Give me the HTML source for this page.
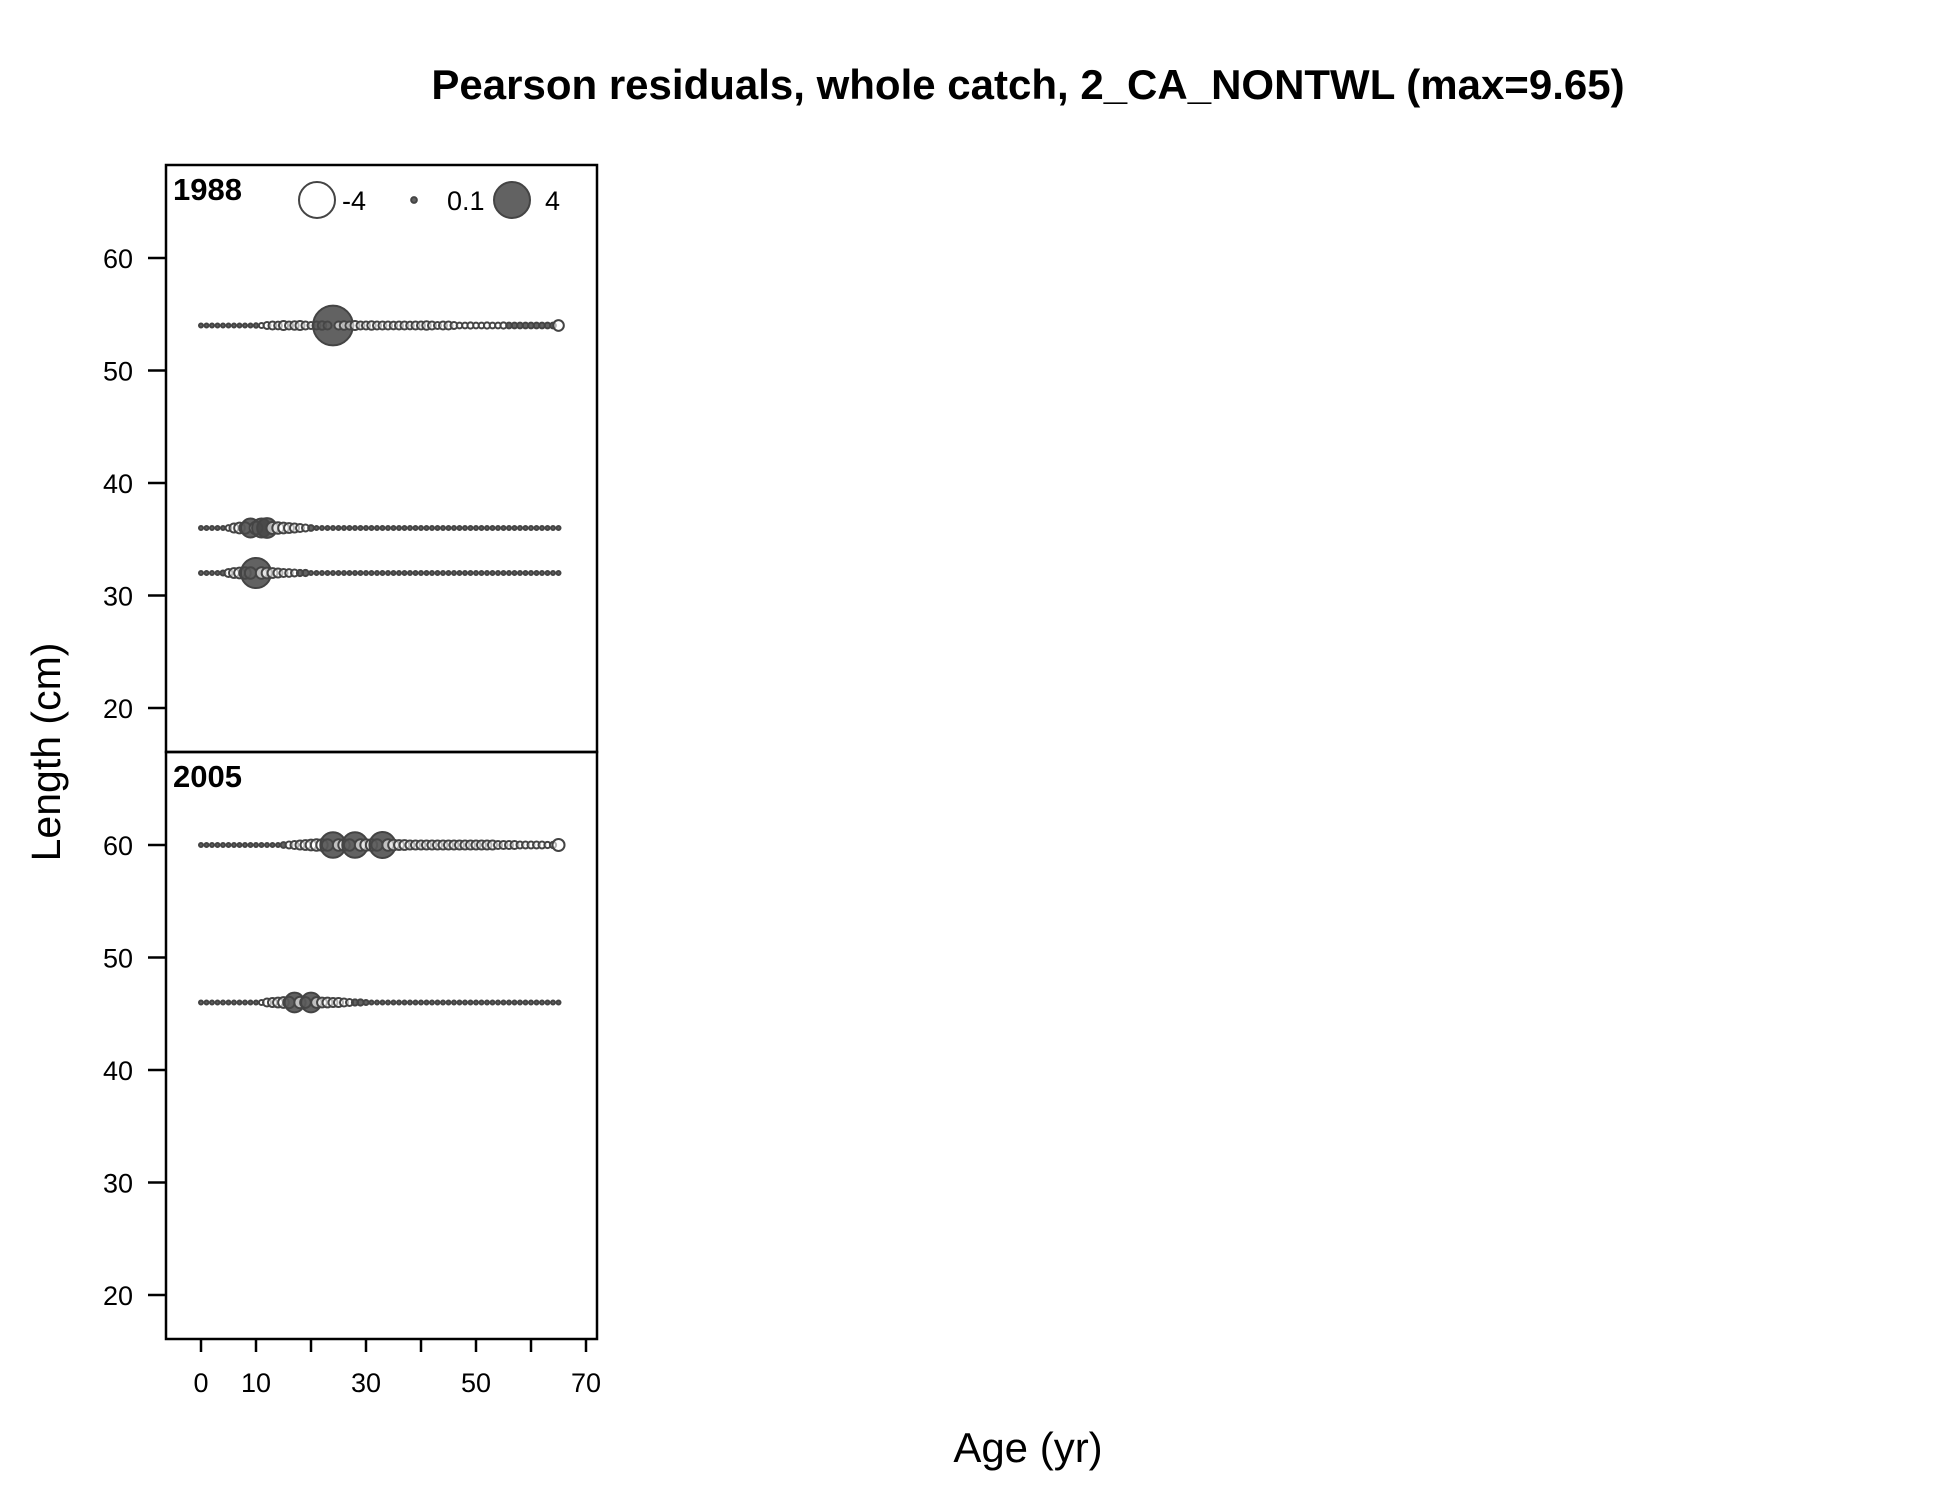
<!DOCTYPE html>
<html><head><meta charset="utf-8">
<style>
html,body{margin:0;padding:0;background:#fff;}
svg{display:block;font-family:"Liberation Sans",Arial,sans-serif;}
</style></head>
<body>
<svg id="chart" width="1950" height="1500" viewBox="0 0 1950 1500">
<text x="1028" y="99" text-anchor="middle" font-size="42" font-weight="bold">Pearson residuals, whole catch, 2_CA_NONTWL (max=9.65)</text>
<text x="1028" y="1462" text-anchor="middle" font-size="42">Age (yr)</text>
<text transform="translate(60,752) rotate(-90)" text-anchor="middle" font-size="41">Length (cm)</text>
<g id="axes"></g>
<g id="marks"></g>
<g id="legend"></g>
</svg>
<script>
const ages = Array.from({length:66},(_,i)=>i);
const years = ["1988","2005"];
const xTicks = [0,10,20,30,40,50,60,70];
const xTickLabels = ["0","10","","30","","50","","70"];
const yTicks = [20,30,40,50,60];
const legendValues = [-4,0.1,4];
const legendLabels = ["-4","0.1","4"];
const rowLengths1988 = [54,36,32];
const rowLengths2005 = [60,46];
const res1988_L54 = [0.05,0.05,0.05,0.05,0.05,0.05,0.05,0.05,0.05,0.05,
 0.06,-0.08,-0.15,-0.2,-0.18,-0.25,-0.2,-0.22,-0.25,-0.2,
 -0.15,-0.2,-0.22,-0.2,4.9,-0.2,-0.22,-0.2,-0.25,-0.2,
 -0.2,-0.22,-0.2,-0.2,-0.2,-0.18,-0.2,-0.2,-0.18,-0.2,
 -0.2,-0.22,-0.2,-0.15,-0.2,-0.2,-0.15,-0.1,-0.1,-0.12,
 -0.1,-0.1,-0.12,-0.1,-0.1,-0.12,0.1,0.1,0.1,0.1,
 0.1,0.1,0.1,0.1,0.1,-0.35];
const res1988_L36 = [0.05,0.05,0.05,0.05,0.05,-0.1,-0.25,-0.35,-0.4,1.1,
 -0.5,1.1,1.2,-0.45,-0.4,-0.35,-0.3,-0.25,-0.2,-0.15,
 0.1,0.05,0.05,0.05,0.05,0.05,0.05,0.05,0.05,0.05,
 0.05,0.05,0.05,0.05,0.05,0.05,0.05,0.05,0.05,0.05,
 0.05,0.05,0.05,0.05,0.05,0.05,0.05,0.05,0.05,0.05,
 0.05,0.05,0.05,0.05,0.05,0.05,0.05,0.05,0.05,0.05,
 0.05,0.05,0.05,0.05,0.05,0.05];
const res1988_L32 = [0.05,0.05,0.05,0.05,0.08,-0.2,-0.3,-0.35,-0.4,-0.4,
 2.8,-0.4,-0.35,-0.3,-0.25,-0.2,-0.18,-0.15,0.12,0.12,
 0.05,0.05,0.05,0.05,0.05,0.05,0.05,0.05,0.05,0.05,
 0.05,0.05,0.05,0.05,0.05,0.05,0.05,0.05,0.05,0.05,
 0.05,0.05,0.05,0.05,0.05,0.05,0.05,0.05,0.05,0.05,
 0.05,0.05,0.05,0.05,0.05,0.05,0.05,0.05,0.05,0.05,
 0.05,0.05,0.05,0.05,0.05,0.05];
const res2005_L60 = [0.05,0.05,0.05,0.05,0.05,0.05,0.05,0.05,0.05,0.05,
 0.05,0.05,0.05,0.05,0.05,0.1,-0.15,-0.2,-0.25,-0.3,
 -0.35,-0.4,-0.4,-0.4,2.0,-0.4,-0.4,-0.4,2.0,-0.4,
 -0.4,-0.4,-0.4,2.1,-0.4,-0.35,-0.3,-0.3,-0.25,-0.25,
 -0.25,-0.25,-0.25,-0.25,-0.25,-0.25,-0.25,-0.25,-0.25,-0.25,
 -0.25,-0.25,-0.25,-0.25,-0.2,-0.2,-0.2,-0.2,-0.15,-0.15,
 -0.15,-0.15,-0.15,-0.12,-0.12,-0.45];
const res2005_L46 = [0.05,0.05,0.05,0.05,0.05,0.05,0.05,0.05,0.05,0.05,
 0.05,-0.08,-0.2,-0.25,-0.3,-0.35,-0.4,1.2,-0.4,-0.35,
 1.2,-0.35,-0.3,-0.3,-0.25,-0.25,-0.2,-0.15,0.12,0.12,
 0.08,0.05,0.05,0.05,0.05,0.05,0.05,0.05,0.05,0.05,
 0.05,0.05,0.05,0.05,0.05,0.05,0.05,0.05,0.05,0.05,
 0.05,0.05,0.05,0.05,0.05,0.05,0.05,0.05,0.05,0.05,
 0.05,0.05,0.05,0.05,0.05,0.05];
const series1988 = [res1988_L54,res1988_L36,res1988_L32];
const series2005 = [res2005_L60,res2005_L46];

const NS="http://www.w3.org/2000/svg";
const left=166,right=597,panelTops=[165,752],panelH=587;
const xScale=a=>201+a*5.5;
const yScale=(p,l)=>panelTops[p]+93+(60-l)*11.25;
const rScale=v=>9*Math.sqrt(Math.abs(v));
function mk(tag,attrs,parent){const e=document.createElementNS(NS,tag);for(const k in attrs)e.setAttribute(k,attrs[k]);parent.appendChild(e);return e;}
const axes=document.getElementById('axes'),marks=document.getElementById('marks'),legend=document.getElementById('legend');

years.forEach((yr,p)=>{
  const r=mk('rect',{x:left,y:panelTops[p],width:right-left,height:panelH,fill:'none',stroke:'#000','stroke-width':2.5},axes);
  
  
  const t=mk('text',{x:173,y:panelTops[p]+35,'font-size':31,'font-weight':'bold'},axes);
  t.textContent=yr;
  
  
  yTicks.forEach(v=>{
    const y=yScale(p,v);
    const l=mk('line',{x1:148,x2:left,y1:y,y2:y,stroke:'#000','stroke-width':2.5},axes);
    
    
    const tx=mk('text',{x:133,y:y+10,'text-anchor':'end','font-size':27},axes);
    tx.textContent=v;
    
    
  });
});
xTicks.forEach((v,i)=>{
  const x=xScale(v);
  const l=mk('line',{x1:x,x2:x,y1:1339,y2:1352,stroke:'#000','stroke-width':2.5},axes);
  
  
  if(xTickLabels[i]){
    const t=mk('text',{x:x,y:1392,'text-anchor':'middle','font-size':27},axes);
    t.textContent=xTickLabels[i];
    
    
  }
});
function bubble(cx,cy,v,parent){
  return mk('circle',{cx:cx,cy:cy,r:Math.max(rScale(v),2),
    fill:v>0?'rgba(70,70,70,0.85)':'rgba(255,255,255,0.6)',stroke:'#444','stroke-width':2},parent);
}
function drawRows(p,lengths,series){
  lengths.forEach((L,ri)=>{
    series[ri].forEach((v,ai)=>{
      const c=bubble(xScale(ages[ai]),yScale(p,L),v,marks);
      
      
    });
  });
}
drawRows(0,rowLengths1988,series1988);
drawRows(1,rowLengths2005,series2005);
const legX=[317,414,512],legTX=[342,447,545];
legendValues.forEach((v,i)=>{
  const c=bubble(legX[i],200,v,legend);
  
  
  const t=mk('text',{x:legTX[i],y:210,'font-size':27},legend);
  t.textContent=legendLabels[i];
  
  
});
</script>
</body></html>
